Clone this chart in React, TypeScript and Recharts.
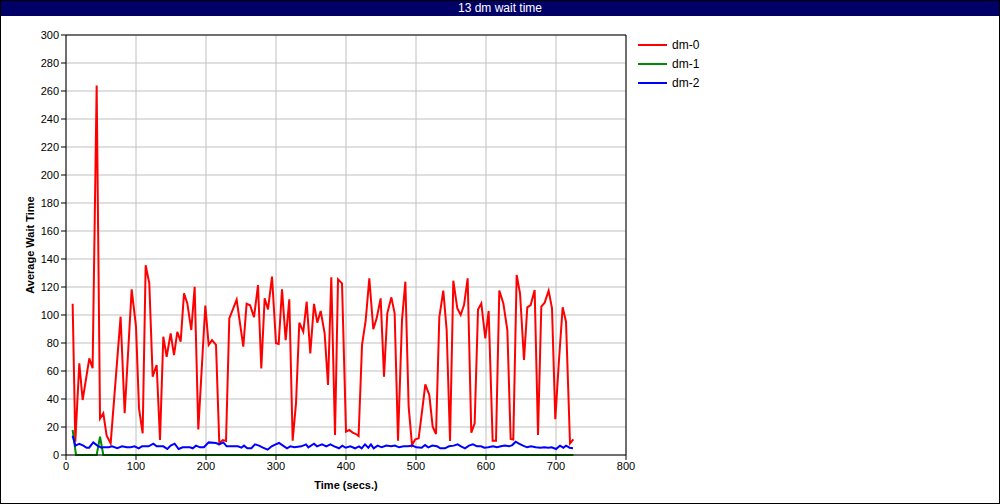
import { LineChart, Line, XAxis, YAxis, CartesianGrid, ReferenceLine } from "recharts"

const title = "13 dm wait time"

const redTime = [
  9.5, 13.3, 19, 23.8, 33.3, 38, 43.8, 48.6, 53.3, 58, 63.8, 78, 83.8, 93.8, 100, 104.3, 109.5, 113.8, 119, 123.8,
  129.5, 134.3, 139, 143.8, 149.5, 154.3, 159, 163.8, 168.6, 173.3, 179, 183.8, 189, 199, 203.8, 208.6, 214.3, 219, 224, 228.6,
  233.3, 243.8, 253.3, 258, 263, 268.6, 274.3, 279, 283.8, 288.6, 294.3, 300, 303.8, 308.6, 313.8, 319, 323.8, 328.6, 333.3, 339,
  343.8, 349, 354.3, 359, 363.8, 369.5, 374.3, 379, 384.3, 388.6, 394.3, 400, 404.8, 409.5, 414.3, 418, 422.9, 428.1, 433.3, 439,
  443.8, 449.5, 454.3, 459, 464.8, 469.5, 474.3, 480, 484.8, 489.5, 494.3, 499, 503.8, 508.6, 513.3, 519, 523.8, 528.6, 533.3, 539,
  543.8, 548.6, 553.3, 559, 563.8, 568.6, 573.8, 579, 583.8, 588.6, 593.3, 599, 603.8, 609.5, 614.3, 619, 624.8, 630.5, 635.2, 639,
  643.8, 648.6, 654.3, 659, 663.8, 669.5, 674.3, 679, 683.8, 689.5, 694.3, 699, 703.8, 709.5, 714.3, 720, 724.8,
]
const redValues = [
  108, 9.5, 65.5, 39.3, 69, 62, 264, 26, 29.8, 14, 8.3, 98.8, 29.8, 118.3, 91.7, 33.3, 15.5, 135.5, 122.6, 56,
  64.3, 10.7, 84.5, 70.2, 86.9, 71.4, 88, 81, 115.5, 108.3, 89.3, 120.2, 18.3, 106.7, 78.6, 82, 78.6, 8.3, 10.7, 10,
  97.6, 111, 77.4, 108, 107, 98.5, 121.4, 61.9, 111.9, 104, 127.4, 79.8, 79.3, 118.3, 82.1, 111.2, 10.2, 37, 94.5, 88,
  109.5, 72.6, 107.9, 94.5, 102.9, 86.9, 50, 126.9, 14.3, 125.5, 122.6, 16.7, 17.9, 16, 15, 13.6, 78.6, 96, 126.2, 89.8,
  97.6, 111.9, 56, 101.2, 112.6, 101.2, 10.2, 96.4, 123.8, 34.5, 7.1, 11.2, 11.9, 31, 50.5, 42.9, 20.2, 15, 98.3, 117.4,
  89.3, 10, 124.5, 104.8, 100, 107.1, 126.2, 15.9, 22.6, 104, 108.3, 83.3, 102.9, 10.2, 10.2, 117.4, 108.3, 89.3, 11.4, 11,
  128.6, 115.5, 67.9, 105.5, 107.1, 117.9, 14.3, 106, 108.8, 117.4, 104.8, 25.5, 64.3, 105.5, 95.2, 8.3, 11.2,
]

const greenTime = [9.5, 14.3, 43.8, 48.6, 53.3, 724.8]
const greenValues = [18, 0, 0, 13, 0, 0]

const blueTime = [
  9.5, 13.3, 19, 24.8, 29.5, 33, 39, 44.8, 50.5, 53, 61, 65.7, 73.3, 80, 86.7, 92.4, 98, 103.8, 108.6, 118,
  124.8, 129.5, 139, 144.8, 149.5, 155.2, 160.9, 166.7, 177, 181, 185.7, 191.4, 197, 203.8, 214.3, 219, 224.8, 229.5, 235.2, 245.7,
  250.5, 254.3, 259, 264.8, 270, 275.7, 281.4, 288, 293.8, 299.5, 304.3, 310, 315.7, 320.5, 326.2, 336.2, 342.9, 346.2, 354.3, 358.6,
  365.7, 371.9, 377.6, 383.3, 390, 394.8, 399.5, 406.2, 412.9, 418.6, 422.4, 427.1, 431.9, 435.7, 439.5, 445.2, 451, 457.6, 464.3, 470,
  475.7, 482.4, 489, 494.8, 500.5, 508.1, 512.9, 517.6, 523.3, 530, 534.8, 541.4, 547.1, 553.8, 559.5, 564.3, 570, 575.7, 581.4, 587.1,
  592.9, 597.6, 603.3, 610, 615.7, 621.4, 627.1, 632.9, 637.6, 642.4, 647.1, 652.9, 658.6, 664.3, 671, 677.6, 683.3, 689, 693.8, 700,
  705.7, 710.5, 714.3, 719.5, 724.3,
]
const blueValues = [
  13.8, 6.7, 7.9, 6.7, 5.2, 5.2, 9, 6.7, 5.2, 5.5, 5.5, 6.2, 4.8, 6.2, 5.5, 5.5, 6.2, 4.8, 6.2, 6.2,
  8.1, 6.2, 6.2, 4.3, 6.7, 8.1, 4.3, 5.5, 5.5, 4.8, 6.7, 5.5, 5.5, 9, 8.6, 7.6, 9, 6.2, 6.2, 6.2,
  5.2, 6.7, 4.8, 4.8, 7.6, 6.7, 5.2, 3.8, 6.2, 7.6, 8.6, 6.7, 4.8, 6.2, 5.5, 6.2, 7.6, 5.5, 8.1, 6.2,
  7.6, 6.2, 7.6, 6.2, 4.8, 6.7, 5.2, 6.2, 4.8, 6.2, 4.8, 7.6, 5.2, 7.6, 4.8, 6.7, 5.5, 6.7, 6.2, 6.7,
  5.5, 6.2, 6.2, 6.7, 5.5, 5.2, 7.1, 5.5, 6.7, 6.2, 4.8, 4.8, 6.2, 6.7, 7.6, 6.2, 4.8, 6.7, 7.6, 6.2,
  6.2, 5.2, 5.5, 6.2, 5.5, 6.2, 6.7, 6.2, 7.1, 9.5, 8.1, 6.7, 5.5, 6.2, 5.5, 5.2, 5.5, 5.2, 5.5, 4.3,
  6.7, 5.2, 6.7, 5.2, 4.8,
]

const xTicks = [0, 100, 200, 300, 400, 500, 600, 700, 800]
const yTicks = [0, 20, 40, 60, 80, 100, 120, 140, 160, 180, 200, 220, 240, 260, 280, 300]

const series = [
  { name: "dm-0", color: "#ff0000", data: redTime.map((t, i) => ({ t, v: redValues[i] })) },
  { name: "dm-1", color: "#008c00", data: greenTime.map((t, i) => ({ t, v: greenValues[i] })) },
  { name: "dm-2", color: "#0000ff", data: blueTime.map((t, i) => ({ t, v: blueValues[i] })) },
]

const font = "'Liberation Sans', Arial, sans-serif"
const tickStyle = { fontSize: 11, fill: "#000", fontFamily: font }

export default function App() {
  return (
    <div style={{ position: "fixed", left: 0, top: 0, width: 1000, height: 504, background: "#fff", fontFamily: font }}>
      <div
        style={{
          position: "absolute", left: 0, top: 0, width: 1000, height: 16, background: "#000066",
          color: "#fff", fontSize: 12, lineHeight: "16px", textAlign: "center",
        }}
      >
        {title}
      </div>
      <div style={{ position: "absolute", left: 0, top: 0 }}>
        <LineChart width={1000} height={504} margin={{ top: 35, right: 374, bottom: 0, left: 0 }}>
          <CartesianGrid stroke="#c0c0c0" strokeWidth={1} />
          <XAxis
            dataKey="t"
            type="number"
            domain={[0, 800]}
            ticks={xTicks}
            height={49}
            tick={tickStyle}
            tickSize={5}
            axisLine={{ stroke: "#000" }}
            tickLine={{ stroke: "#000" }}
            allowDuplicatedCategory={false}
            label={{ value: "Time (secs.)", position: "insideBottom", offset: 15, style: { fontSize: 11, fontWeight: "bold", fill: "#000", fontFamily: font } }}
          />
          <YAxis
            type="number"
            domain={[0, 300]}
            ticks={yTicks}
            width={66}
            tick={tickStyle}
            tickSize={5}
            axisLine={{ stroke: "#000" }}
            tickLine={{ stroke: "#000" }}
            label={{ value: "Average Wait Time", angle: -90, position: "insideLeft", offset: 30, style: { fontSize: 11, fontWeight: "bold", fill: "#000", fontFamily: font, textAnchor: "middle" } }}
          />
          <ReferenceLine y={300} stroke="#000" />
          <ReferenceLine x={800} stroke="#000" />
          {series.map((s) => (
            <Line
              key={s.name}
              data={s.data}
              dataKey="v"
              name={s.name}
              stroke={s.color}
              strokeWidth={2}
              dot={false}
              isAnimationActive={false}
            />
          ))}
        </LineChart>
      </div>
      <div style={{ position: "absolute", left: 638, top: 35 }}>
        {series.map((s) => (
          <div key={s.name} style={{ display: "flex", alignItems: "center", height: 19, fontSize: 12 }}>
            <span style={{ width: 29, height: 2, background: s.color, display: "inline-block" }} />
            <span style={{ marginLeft: 5 }}>{s.name}</span>
          </div>
        ))}
      </div>
      <div style={{ position: "absolute", inset: 0, border: "1px solid #000", boxSizing: "border-box", pointerEvents: "none" }} />
    </div>
  )
}
